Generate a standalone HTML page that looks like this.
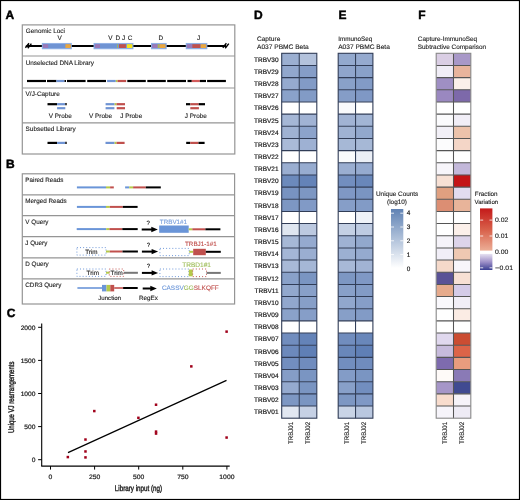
<!DOCTYPE html>
<html><head><meta charset="utf-8"><style>
html,body{margin:0;padding:0;background:#fff;}
body{width:520px;height:500px;overflow:hidden;}
svg{display:block;font-family:"Liberation Sans", sans-serif;will-change:transform;text-rendering:geometricPrecision;}
</style></head><body>
<svg width="520" height="500" viewBox="0 0 520 500">
<rect x="0" y="0" width="520" height="500" fill="#fff"/>
<text x="5.60" y="18.50" font-size="12.0" fill="#000" text-anchor="start" font-weight="bold" stroke="#000" stroke-width="0.45" >A</text>
<text x="5.90" y="167.60" font-size="12.0" fill="#000" text-anchor="start" font-weight="bold" stroke="#000" stroke-width="0.45" >B</text>
<text x="6.80" y="317.40" font-size="12.0" fill="#000" text-anchor="start" font-weight="bold" stroke="#000" stroke-width="0.45" >C</text>
<text x="254.00" y="18.50" font-size="12.0" fill="#000" text-anchor="start" font-weight="bold" stroke="#000" stroke-width="0.45" >D</text>
<text x="338.40" y="18.50" font-size="12.0" fill="#000" text-anchor="start" font-weight="bold" stroke="#000" stroke-width="0.45" >E</text>
<text x="418.20" y="18.50" font-size="12.0" fill="#000" text-anchor="start" font-weight="bold" stroke="#000" stroke-width="0.45" >F</text>
<rect x="281.70" y="53.30" width="17.55" height="12.16" fill="#9bafd1" />
<rect x="299.25" y="53.30" width="17.55" height="12.16" fill="#b3c2dc" />
<rect x="281.70" y="65.46" width="17.55" height="12.16" fill="#91a7cd" />
<rect x="299.25" y="65.46" width="17.55" height="12.16" fill="#859dc7" />
<rect x="281.70" y="77.63" width="17.55" height="12.16" fill="#95aacf" />
<rect x="299.25" y="77.63" width="17.55" height="12.16" fill="#829bc6" />
<rect x="281.70" y="89.79" width="17.55" height="12.16" fill="#8aa2ca" />
<rect x="299.25" y="89.79" width="17.55" height="12.16" fill="#829bc6" />
<rect x="281.70" y="101.95" width="17.55" height="12.16" fill="#ffffff" />
<rect x="299.25" y="101.95" width="17.55" height="12.16" fill="#ffffff" />
<rect x="281.70" y="114.12" width="17.55" height="12.16" fill="#a5b7d6" />
<rect x="299.25" y="114.12" width="17.55" height="12.16" fill="#a1b3d4" />
<rect x="281.70" y="126.28" width="17.55" height="12.16" fill="#9fb2d3" />
<rect x="299.25" y="126.28" width="17.55" height="12.16" fill="#8ca3cb" />
<rect x="281.70" y="138.44" width="17.55" height="12.16" fill="#a9bad8" />
<rect x="299.25" y="138.44" width="17.55" height="12.16" fill="#9eb1d3" />
<rect x="281.70" y="150.61" width="17.55" height="12.16" fill="#ffffff" />
<rect x="299.25" y="150.61" width="17.55" height="12.16" fill="#ffffff" />
<rect x="281.70" y="162.77" width="17.55" height="12.16" fill="#9aaed1" />
<rect x="299.25" y="162.77" width="17.55" height="12.16" fill="#97acd0" />
<rect x="281.70" y="174.93" width="17.55" height="12.16" fill="#6c8abc" />
<rect x="299.25" y="174.93" width="17.55" height="12.16" fill="#6483b8" />
<rect x="281.70" y="187.10" width="17.55" height="12.16" fill="#7893c1" />
<rect x="299.25" y="187.10" width="17.55" height="12.16" fill="#7d97c3" />
<rect x="281.70" y="199.26" width="17.55" height="12.16" fill="#7d97c3" />
<rect x="299.25" y="199.26" width="17.55" height="12.16" fill="#819ac6" />
<rect x="281.70" y="211.42" width="17.55" height="12.16" fill="#ffffff" />
<rect x="299.25" y="211.42" width="17.55" height="12.16" fill="#ffffff" />
<rect x="281.70" y="223.59" width="17.55" height="12.16" fill="#dfe6f0" />
<rect x="299.25" y="223.59" width="17.55" height="12.16" fill="#bcc9e0" />
<rect x="281.70" y="235.75" width="17.55" height="12.16" fill="#a6b8d6" />
<rect x="299.25" y="235.75" width="17.55" height="12.16" fill="#95aacf" />
<rect x="281.70" y="247.91" width="17.55" height="12.16" fill="#a4b6d6" />
<rect x="299.25" y="247.91" width="17.55" height="12.16" fill="#9aaed1" />
<rect x="281.70" y="260.08" width="17.55" height="12.16" fill="#a8b9d7" />
<rect x="299.25" y="260.08" width="17.55" height="12.16" fill="#a5b7d6" />
<rect x="281.70" y="272.24" width="17.55" height="12.16" fill="#89a1c9" />
<rect x="299.25" y="272.24" width="17.55" height="12.16" fill="#7a95c2" />
<rect x="281.70" y="284.40" width="17.55" height="12.16" fill="#92a8cd" />
<rect x="299.25" y="284.40" width="17.55" height="12.16" fill="#88a0c9" />
<rect x="281.70" y="296.57" width="17.55" height="12.16" fill="#91a7cd" />
<rect x="299.25" y="296.57" width="17.55" height="12.16" fill="#879fc8" />
<rect x="281.70" y="308.73" width="17.55" height="12.16" fill="#8aa2ca" />
<rect x="299.25" y="308.73" width="17.55" height="12.16" fill="#869ec8" />
<rect x="281.70" y="320.89" width="17.55" height="12.16" fill="#ffffff" />
<rect x="299.25" y="320.89" width="17.55" height="12.16" fill="#ffffff" />
<rect x="281.70" y="333.06" width="17.55" height="12.16" fill="#718dbe" />
<rect x="299.25" y="333.06" width="17.55" height="12.16" fill="#6483b8" />
<rect x="281.70" y="345.22" width="17.55" height="12.16" fill="#6c89bc" />
<rect x="299.25" y="345.22" width="17.55" height="12.16" fill="#5f7fb6" />
<rect x="281.70" y="357.38" width="17.55" height="12.16" fill="#728ebf" />
<rect x="299.25" y="357.38" width="17.55" height="12.16" fill="#708cbe" />
<rect x="281.70" y="369.55" width="17.55" height="12.16" fill="#859dc7" />
<rect x="299.25" y="369.55" width="17.55" height="12.16" fill="#7a95c2" />
<rect x="281.70" y="381.71" width="17.55" height="12.16" fill="#95aacf" />
<rect x="299.25" y="381.71" width="17.55" height="12.16" fill="#7a95c2" />
<rect x="281.70" y="393.87" width="17.55" height="12.16" fill="#7d97c3" />
<rect x="299.25" y="393.87" width="17.55" height="12.16" fill="#7a95c2" />
<rect x="281.70" y="406.04" width="17.55" height="12.16" fill="#e1e7f1" />
<rect x="299.25" y="406.04" width="17.55" height="12.16" fill="#c6d1e5" />
<line x1="281.70" y1="65.46" x2="316.80" y2="65.46" stroke="#313d57" stroke-width="1.05" />
<line x1="281.70" y1="77.63" x2="316.80" y2="77.63" stroke="#313d57" stroke-width="1.05" />
<line x1="281.70" y1="89.79" x2="316.80" y2="89.79" stroke="#313d57" stroke-width="1.05" />
<line x1="281.70" y1="101.95" x2="316.80" y2="101.95" stroke="#313d57" stroke-width="1.05" />
<line x1="281.70" y1="114.12" x2="316.80" y2="114.12" stroke="#313d57" stroke-width="1.05" />
<line x1="281.70" y1="126.28" x2="316.80" y2="126.28" stroke="#313d57" stroke-width="1.05" />
<line x1="281.70" y1="138.44" x2="316.80" y2="138.44" stroke="#313d57" stroke-width="1.05" />
<line x1="281.70" y1="150.61" x2="316.80" y2="150.61" stroke="#313d57" stroke-width="1.05" />
<line x1="281.70" y1="162.77" x2="316.80" y2="162.77" stroke="#313d57" stroke-width="1.05" />
<line x1="281.70" y1="174.93" x2="316.80" y2="174.93" stroke="#313d57" stroke-width="1.05" />
<line x1="281.70" y1="187.10" x2="316.80" y2="187.10" stroke="#313d57" stroke-width="1.05" />
<line x1="281.70" y1="199.26" x2="316.80" y2="199.26" stroke="#313d57" stroke-width="1.05" />
<line x1="281.70" y1="211.42" x2="316.80" y2="211.42" stroke="#313d57" stroke-width="1.05" />
<line x1="281.70" y1="223.59" x2="316.80" y2="223.59" stroke="#313d57" stroke-width="1.05" />
<line x1="281.70" y1="235.75" x2="316.80" y2="235.75" stroke="#313d57" stroke-width="1.05" />
<line x1="281.70" y1="247.91" x2="316.80" y2="247.91" stroke="#313d57" stroke-width="1.05" />
<line x1="281.70" y1="260.08" x2="316.80" y2="260.08" stroke="#313d57" stroke-width="1.05" />
<line x1="281.70" y1="272.24" x2="316.80" y2="272.24" stroke="#313d57" stroke-width="1.05" />
<line x1="281.70" y1="284.40" x2="316.80" y2="284.40" stroke="#313d57" stroke-width="1.05" />
<line x1="281.70" y1="296.57" x2="316.80" y2="296.57" stroke="#313d57" stroke-width="1.05" />
<line x1="281.70" y1="308.73" x2="316.80" y2="308.73" stroke="#313d57" stroke-width="1.05" />
<line x1="281.70" y1="320.89" x2="316.80" y2="320.89" stroke="#313d57" stroke-width="1.05" />
<line x1="281.70" y1="333.06" x2="316.80" y2="333.06" stroke="#313d57" stroke-width="1.05" />
<line x1="281.70" y1="345.22" x2="316.80" y2="345.22" stroke="#313d57" stroke-width="1.05" />
<line x1="281.70" y1="357.38" x2="316.80" y2="357.38" stroke="#313d57" stroke-width="1.05" />
<line x1="281.70" y1="369.55" x2="316.80" y2="369.55" stroke="#313d57" stroke-width="1.05" />
<line x1="281.70" y1="381.71" x2="316.80" y2="381.71" stroke="#313d57" stroke-width="1.05" />
<line x1="281.70" y1="393.87" x2="316.80" y2="393.87" stroke="#313d57" stroke-width="1.05" />
<line x1="281.70" y1="406.04" x2="316.80" y2="406.04" stroke="#313d57" stroke-width="1.05" />
<line x1="299.25" y1="53.30" x2="299.25" y2="418.20" stroke="#313d57" stroke-width="1.05" />
<rect x="281.70" y="53.30" width="35.10" height="364.90" fill="none" stroke="#313d57" stroke-width="1.1"/>
<text transform="translate(292.68,443.9) rotate(-90) scale(0.92,1)" font-size="6.6" fill="#222" stroke="#222" stroke-width="0.12">TRBJ01</text>
<text transform="translate(310.22,443.9) rotate(-90) scale(0.92,1)" font-size="6.6" fill="#222" stroke="#222" stroke-width="0.12">TRBJ02</text>
<rect x="338.20" y="53.30" width="17.35" height="12.16" fill="#93a9ce" />
<rect x="355.55" y="53.30" width="17.35" height="12.16" fill="#95aacf" />
<rect x="338.20" y="65.46" width="17.35" height="12.16" fill="#8fa5cc" />
<rect x="355.55" y="65.46" width="17.35" height="12.16" fill="#89a1c9" />
<rect x="338.20" y="77.63" width="17.35" height="12.16" fill="#89a1c9" />
<rect x="355.55" y="77.63" width="17.35" height="12.16" fill="#829bc6" />
<rect x="338.20" y="89.79" width="17.35" height="12.16" fill="#859dc7" />
<rect x="355.55" y="89.79" width="17.35" height="12.16" fill="#7f98c5" />
<rect x="338.20" y="101.95" width="17.35" height="12.16" fill="#f8f9fc" />
<rect x="355.55" y="101.95" width="17.35" height="12.16" fill="#ffffff" />
<rect x="338.20" y="114.12" width="17.35" height="12.16" fill="#a1b3d4" />
<rect x="355.55" y="114.12" width="17.35" height="12.16" fill="#a2b5d5" />
<rect x="338.20" y="126.28" width="17.35" height="12.16" fill="#9fb2d3" />
<rect x="355.55" y="126.28" width="17.35" height="12.16" fill="#92a8cd" />
<rect x="338.20" y="138.44" width="17.35" height="12.16" fill="#a6b8d6" />
<rect x="355.55" y="138.44" width="17.35" height="12.16" fill="#a6b8d6" />
<rect x="338.20" y="150.61" width="17.35" height="12.16" fill="#f9fbfc" />
<rect x="355.55" y="150.61" width="17.35" height="12.16" fill="#ebeff6" />
<rect x="338.20" y="162.77" width="17.35" height="12.16" fill="#9aaed1" />
<rect x="355.55" y="162.77" width="17.35" height="12.16" fill="#95aacf" />
<rect x="338.20" y="174.93" width="17.35" height="12.16" fill="#728ebf" />
<rect x="355.55" y="174.93" width="17.35" height="12.16" fill="#6987ba" />
<rect x="338.20" y="187.10" width="17.35" height="12.16" fill="#7f98c5" />
<rect x="355.55" y="187.10" width="17.35" height="12.16" fill="#7a95c2" />
<rect x="338.20" y="199.26" width="17.35" height="12.16" fill="#869ec8" />
<rect x="355.55" y="199.26" width="17.35" height="12.16" fill="#829bc6" />
<rect x="338.20" y="211.42" width="17.35" height="12.16" fill="#ffffff" />
<rect x="355.55" y="211.42" width="17.35" height="12.16" fill="#eff2f8" />
<rect x="338.20" y="223.59" width="17.35" height="12.16" fill="#c4d0e4" />
<rect x="355.55" y="223.59" width="17.35" height="12.16" fill="#becbe2" />
<rect x="338.20" y="235.75" width="17.35" height="12.16" fill="#9fb2d3" />
<rect x="355.55" y="235.75" width="17.35" height="12.16" fill="#92a8cd" />
<rect x="338.20" y="247.91" width="17.35" height="12.16" fill="#9cb0d2" />
<rect x="355.55" y="247.91" width="17.35" height="12.16" fill="#95aacf" />
<rect x="338.20" y="260.08" width="17.35" height="12.16" fill="#a8b9d7" />
<rect x="355.55" y="260.08" width="17.35" height="12.16" fill="#a1b3d4" />
<rect x="338.20" y="272.24" width="17.35" height="12.16" fill="#7d97c3" />
<rect x="355.55" y="272.24" width="17.35" height="12.16" fill="#7f98c5" />
<rect x="338.20" y="284.40" width="17.35" height="12.16" fill="#88a0c9" />
<rect x="355.55" y="284.40" width="17.35" height="12.16" fill="#829bc6" />
<rect x="338.20" y="296.57" width="17.35" height="12.16" fill="#91a7cd" />
<rect x="355.55" y="296.57" width="17.35" height="12.16" fill="#869ec8" />
<rect x="338.20" y="308.73" width="17.35" height="12.16" fill="#879fc8" />
<rect x="355.55" y="308.73" width="17.35" height="12.16" fill="#829bc6" />
<rect x="338.20" y="320.89" width="17.35" height="12.16" fill="#ffffff" />
<rect x="355.55" y="320.89" width="17.35" height="12.16" fill="#ffffff" />
<rect x="338.20" y="333.06" width="17.35" height="12.16" fill="#718dbe" />
<rect x="355.55" y="333.06" width="17.35" height="12.16" fill="#6987ba" />
<rect x="338.20" y="345.22" width="17.35" height="12.16" fill="#6987ba" />
<rect x="355.55" y="345.22" width="17.35" height="12.16" fill="#5f7fb6" />
<rect x="338.20" y="357.38" width="17.35" height="12.16" fill="#728ebf" />
<rect x="355.55" y="357.38" width="17.35" height="12.16" fill="#708cbe" />
<rect x="338.20" y="369.55" width="17.35" height="12.16" fill="#839cc7" />
<rect x="355.55" y="369.55" width="17.35" height="12.16" fill="#7a95c2" />
<rect x="338.20" y="381.71" width="17.35" height="12.16" fill="#88a0c9" />
<rect x="355.55" y="381.71" width="17.35" height="12.16" fill="#728ebf" />
<rect x="338.20" y="393.87" width="17.35" height="12.16" fill="#7d97c3" />
<rect x="355.55" y="393.87" width="17.35" height="12.16" fill="#7f98c5" />
<rect x="338.20" y="406.04" width="17.35" height="12.16" fill="#c9d4e6" />
<rect x="355.55" y="406.04" width="17.35" height="12.16" fill="#b9c7df" />
<line x1="338.20" y1="65.46" x2="372.90" y2="65.46" stroke="#313d57" stroke-width="1.05" />
<line x1="338.20" y1="77.63" x2="372.90" y2="77.63" stroke="#313d57" stroke-width="1.05" />
<line x1="338.20" y1="89.79" x2="372.90" y2="89.79" stroke="#313d57" stroke-width="1.05" />
<line x1="338.20" y1="101.95" x2="372.90" y2="101.95" stroke="#313d57" stroke-width="1.05" />
<line x1="338.20" y1="114.12" x2="372.90" y2="114.12" stroke="#313d57" stroke-width="1.05" />
<line x1="338.20" y1="126.28" x2="372.90" y2="126.28" stroke="#313d57" stroke-width="1.05" />
<line x1="338.20" y1="138.44" x2="372.90" y2="138.44" stroke="#313d57" stroke-width="1.05" />
<line x1="338.20" y1="150.61" x2="372.90" y2="150.61" stroke="#313d57" stroke-width="1.05" />
<line x1="338.20" y1="162.77" x2="372.90" y2="162.77" stroke="#313d57" stroke-width="1.05" />
<line x1="338.20" y1="174.93" x2="372.90" y2="174.93" stroke="#313d57" stroke-width="1.05" />
<line x1="338.20" y1="187.10" x2="372.90" y2="187.10" stroke="#313d57" stroke-width="1.05" />
<line x1="338.20" y1="199.26" x2="372.90" y2="199.26" stroke="#313d57" stroke-width="1.05" />
<line x1="338.20" y1="211.42" x2="372.90" y2="211.42" stroke="#313d57" stroke-width="1.05" />
<line x1="338.20" y1="223.59" x2="372.90" y2="223.59" stroke="#313d57" stroke-width="1.05" />
<line x1="338.20" y1="235.75" x2="372.90" y2="235.75" stroke="#313d57" stroke-width="1.05" />
<line x1="338.20" y1="247.91" x2="372.90" y2="247.91" stroke="#313d57" stroke-width="1.05" />
<line x1="338.20" y1="260.08" x2="372.90" y2="260.08" stroke="#313d57" stroke-width="1.05" />
<line x1="338.20" y1="272.24" x2="372.90" y2="272.24" stroke="#313d57" stroke-width="1.05" />
<line x1="338.20" y1="284.40" x2="372.90" y2="284.40" stroke="#313d57" stroke-width="1.05" />
<line x1="338.20" y1="296.57" x2="372.90" y2="296.57" stroke="#313d57" stroke-width="1.05" />
<line x1="338.20" y1="308.73" x2="372.90" y2="308.73" stroke="#313d57" stroke-width="1.05" />
<line x1="338.20" y1="320.89" x2="372.90" y2="320.89" stroke="#313d57" stroke-width="1.05" />
<line x1="338.20" y1="333.06" x2="372.90" y2="333.06" stroke="#313d57" stroke-width="1.05" />
<line x1="338.20" y1="345.22" x2="372.90" y2="345.22" stroke="#313d57" stroke-width="1.05" />
<line x1="338.20" y1="357.38" x2="372.90" y2="357.38" stroke="#313d57" stroke-width="1.05" />
<line x1="338.20" y1="369.55" x2="372.90" y2="369.55" stroke="#313d57" stroke-width="1.05" />
<line x1="338.20" y1="381.71" x2="372.90" y2="381.71" stroke="#313d57" stroke-width="1.05" />
<line x1="338.20" y1="393.87" x2="372.90" y2="393.87" stroke="#313d57" stroke-width="1.05" />
<line x1="338.20" y1="406.04" x2="372.90" y2="406.04" stroke="#313d57" stroke-width="1.05" />
<line x1="355.55" y1="53.30" x2="355.55" y2="418.20" stroke="#313d57" stroke-width="1.05" />
<rect x="338.20" y="53.30" width="34.70" height="364.90" fill="none" stroke="#313d57" stroke-width="1.1"/>
<text transform="translate(349.07,443.9) rotate(-90) scale(0.92,1)" font-size="6.6" fill="#222" stroke="#222" stroke-width="0.12">TRBJ01</text>
<text transform="translate(366.42,443.9) rotate(-90) scale(0.92,1)" font-size="6.6" fill="#222" stroke="#222" stroke-width="0.12">TRBJ02</text>
<rect x="436.20" y="53.30" width="17.30" height="12.16" fill="#dacee4" />
<rect x="453.50" y="53.30" width="17.30" height="12.16" fill="#a898c8" />
<rect x="436.20" y="65.46" width="17.30" height="12.16" fill="#f0edf6" />
<rect x="453.50" y="65.46" width="17.30" height="12.16" fill="#e8b49c" />
<rect x="436.20" y="77.63" width="17.30" height="12.16" fill="#9f8fc4" />
<rect x="453.50" y="77.63" width="17.30" height="12.16" fill="#fbf0ea" />
<rect x="436.20" y="89.79" width="17.30" height="12.16" fill="#9a88c0" />
<rect x="453.50" y="89.79" width="17.30" height="12.16" fill="#7d69aa" />
<rect x="436.20" y="101.95" width="17.30" height="12.16" fill="#ffffff" />
<rect x="453.50" y="101.95" width="17.30" height="12.16" fill="#ffffff" />
<rect x="436.20" y="114.12" width="17.30" height="12.16" fill="#fbfbfd" />
<rect x="453.50" y="114.12" width="17.30" height="12.16" fill="#f1eef7" />
<rect x="436.20" y="126.28" width="17.30" height="12.16" fill="#f2f0f7" />
<rect x="453.50" y="126.28" width="17.30" height="12.16" fill="#ecc2ab" />
<rect x="436.20" y="138.44" width="17.30" height="12.16" fill="#fcfcfd" />
<rect x="453.50" y="138.44" width="17.30" height="12.16" fill="#f4d6c7" />
<rect x="436.20" y="150.61" width="17.30" height="12.16" fill="#ffffff" />
<rect x="453.50" y="150.61" width="17.30" height="12.16" fill="#ffffff" />
<rect x="436.20" y="162.77" width="17.30" height="12.16" fill="#f7f5fa" />
<rect x="453.50" y="162.77" width="17.30" height="12.16" fill="#c3b8da" />
<rect x="436.20" y="174.93" width="17.30" height="12.16" fill="#f7e0d4" />
<rect x="453.50" y="174.93" width="17.30" height="12.16" fill="#c31416" />
<rect x="436.20" y="187.10" width="17.30" height="12.16" fill="#e0a080" />
<rect x="453.50" y="187.10" width="17.30" height="12.16" fill="#e2dcef" />
<rect x="436.20" y="199.26" width="17.30" height="12.16" fill="#dc8e73" />
<rect x="453.50" y="199.26" width="17.30" height="12.16" fill="#e8b49a" />
<rect x="436.20" y="211.42" width="17.30" height="12.16" fill="#ffffff" />
<rect x="453.50" y="211.42" width="17.30" height="12.16" fill="#ffffff" />
<rect x="436.20" y="223.59" width="17.30" height="12.16" fill="#ffffff" />
<rect x="453.50" y="223.59" width="17.30" height="12.16" fill="#fcf0ea" />
<rect x="436.20" y="235.75" width="17.30" height="12.16" fill="#f5f3f9" />
<rect x="453.50" y="235.75" width="17.30" height="12.16" fill="#ddd4ea" />
<rect x="436.20" y="247.91" width="17.30" height="12.16" fill="#f1eef7" />
<rect x="453.50" y="247.91" width="17.30" height="12.16" fill="#efc8b2" />
<rect x="436.20" y="260.08" width="17.30" height="12.16" fill="#f5d9ca" />
<rect x="453.50" y="260.08" width="17.30" height="12.16" fill="#f8f6fb" />
<rect x="436.20" y="272.24" width="17.30" height="12.16" fill="#5a5296" />
<rect x="453.50" y="272.24" width="17.30" height="12.16" fill="#f7e0d4" />
<rect x="436.20" y="284.40" width="17.30" height="12.16" fill="#e6aa8c" />
<rect x="453.50" y="284.40" width="17.30" height="12.16" fill="#d4cbe8" />
<rect x="436.20" y="296.57" width="17.30" height="12.16" fill="#f9f8fc" />
<rect x="453.50" y="296.57" width="17.30" height="12.16" fill="#f1eef7" />
<rect x="436.20" y="308.73" width="17.30" height="12.16" fill="#ffffff" />
<rect x="453.50" y="308.73" width="17.30" height="12.16" fill="#fbece4" />
<rect x="436.20" y="320.89" width="17.30" height="12.16" fill="#ffffff" />
<rect x="453.50" y="320.89" width="17.30" height="12.16" fill="#ffffff" />
<rect x="436.20" y="333.06" width="17.30" height="12.16" fill="#e0d8ee" />
<rect x="453.50" y="333.06" width="17.30" height="12.16" fill="#cb4d32" />
<rect x="436.20" y="345.22" width="17.30" height="12.16" fill="#c7bbdc" />
<rect x="453.50" y="345.22" width="17.30" height="12.16" fill="#dc6448" />
<rect x="436.20" y="357.38" width="17.30" height="12.16" fill="#7e6bae" />
<rect x="453.50" y="357.38" width="17.30" height="12.16" fill="#e89c7e" />
<rect x="436.20" y="369.55" width="17.30" height="12.16" fill="#fefaf8" />
<rect x="453.50" y="369.55" width="17.30" height="12.16" fill="#8a7ab6" />
<rect x="436.20" y="381.71" width="17.30" height="12.16" fill="#a696c8" />
<rect x="453.50" y="381.71" width="17.30" height="12.16" fill="#404a91" />
<rect x="436.20" y="393.87" width="17.30" height="12.16" fill="#f8dccd" />
<rect x="453.50" y="393.87" width="17.30" height="12.16" fill="#f6f3f9" />
<rect x="436.20" y="406.04" width="17.30" height="12.16" fill="#f6f4fa" />
<rect x="453.50" y="406.04" width="17.30" height="12.16" fill="#eeebf5" />
<line x1="436.20" y1="65.46" x2="470.80" y2="65.46" stroke="#555" stroke-width="1.05" />
<line x1="436.20" y1="77.63" x2="470.80" y2="77.63" stroke="#555" stroke-width="1.05" />
<line x1="436.20" y1="89.79" x2="470.80" y2="89.79" stroke="#555" stroke-width="1.05" />
<line x1="436.20" y1="101.95" x2="470.80" y2="101.95" stroke="#555" stroke-width="1.05" />
<line x1="436.20" y1="114.12" x2="470.80" y2="114.12" stroke="#555" stroke-width="1.05" />
<line x1="436.20" y1="126.28" x2="470.80" y2="126.28" stroke="#555" stroke-width="1.05" />
<line x1="436.20" y1="138.44" x2="470.80" y2="138.44" stroke="#555" stroke-width="1.05" />
<line x1="436.20" y1="150.61" x2="470.80" y2="150.61" stroke="#555" stroke-width="1.05" />
<line x1="436.20" y1="162.77" x2="470.80" y2="162.77" stroke="#555" stroke-width="1.05" />
<line x1="436.20" y1="174.93" x2="470.80" y2="174.93" stroke="#555" stroke-width="1.05" />
<line x1="436.20" y1="187.10" x2="470.80" y2="187.10" stroke="#555" stroke-width="1.05" />
<line x1="436.20" y1="199.26" x2="470.80" y2="199.26" stroke="#555" stroke-width="1.05" />
<line x1="436.20" y1="211.42" x2="470.80" y2="211.42" stroke="#555" stroke-width="1.05" />
<line x1="436.20" y1="223.59" x2="470.80" y2="223.59" stroke="#555" stroke-width="1.05" />
<line x1="436.20" y1="235.75" x2="470.80" y2="235.75" stroke="#555" stroke-width="1.05" />
<line x1="436.20" y1="247.91" x2="470.80" y2="247.91" stroke="#555" stroke-width="1.05" />
<line x1="436.20" y1="260.08" x2="470.80" y2="260.08" stroke="#555" stroke-width="1.05" />
<line x1="436.20" y1="272.24" x2="470.80" y2="272.24" stroke="#555" stroke-width="1.05" />
<line x1="436.20" y1="284.40" x2="470.80" y2="284.40" stroke="#555" stroke-width="1.05" />
<line x1="436.20" y1="296.57" x2="470.80" y2="296.57" stroke="#555" stroke-width="1.05" />
<line x1="436.20" y1="308.73" x2="470.80" y2="308.73" stroke="#555" stroke-width="1.05" />
<line x1="436.20" y1="320.89" x2="470.80" y2="320.89" stroke="#555" stroke-width="1.05" />
<line x1="436.20" y1="333.06" x2="470.80" y2="333.06" stroke="#555" stroke-width="1.05" />
<line x1="436.20" y1="345.22" x2="470.80" y2="345.22" stroke="#555" stroke-width="1.05" />
<line x1="436.20" y1="357.38" x2="470.80" y2="357.38" stroke="#555" stroke-width="1.05" />
<line x1="436.20" y1="369.55" x2="470.80" y2="369.55" stroke="#555" stroke-width="1.05" />
<line x1="436.20" y1="381.71" x2="470.80" y2="381.71" stroke="#555" stroke-width="1.05" />
<line x1="436.20" y1="393.87" x2="470.80" y2="393.87" stroke="#555" stroke-width="1.05" />
<line x1="436.20" y1="406.04" x2="470.80" y2="406.04" stroke="#555" stroke-width="1.05" />
<line x1="453.50" y1="53.30" x2="453.50" y2="418.20" stroke="#555" stroke-width="1.05" />
<rect x="436.20" y="53.30" width="34.60" height="364.90" fill="none" stroke="#888" stroke-width="1.1"/>
<text transform="translate(447.05,443.9) rotate(-90) scale(0.92,1)" font-size="6.6" fill="#222" stroke="#222" stroke-width="0.12">TRBJ01</text>
<text transform="translate(464.35,443.9) rotate(-90) scale(0.92,1)" font-size="6.6" fill="#222" stroke="#222" stroke-width="0.12">TRBJ02</text>
<text x="278.60" y="61.68" font-size="6.5" fill="#111" text-anchor="end" font-weight="normal" stroke="#111" stroke-width="0.16" >TRBV30</text>
<text x="278.60" y="73.84" font-size="6.5" fill="#111" text-anchor="end" font-weight="normal" stroke="#111" stroke-width="0.16" >TRBV29</text>
<text x="278.60" y="86.01" font-size="6.5" fill="#111" text-anchor="end" font-weight="normal" stroke="#111" stroke-width="0.16" >TRBV28</text>
<text x="278.60" y="98.17" font-size="6.5" fill="#111" text-anchor="end" font-weight="normal" stroke="#111" stroke-width="0.16" >TRBV27</text>
<text x="278.60" y="110.33" font-size="6.5" fill="#111" text-anchor="end" font-weight="normal" stroke="#111" stroke-width="0.16" >TRBV26</text>
<text x="278.60" y="122.50" font-size="6.5" fill="#111" text-anchor="end" font-weight="normal" stroke="#111" stroke-width="0.16" >TRBV25</text>
<text x="278.60" y="134.66" font-size="6.5" fill="#111" text-anchor="end" font-weight="normal" stroke="#111" stroke-width="0.16" >TRBV24</text>
<text x="278.60" y="146.82" font-size="6.5" fill="#111" text-anchor="end" font-weight="normal" stroke="#111" stroke-width="0.16" >TRBV23</text>
<text x="278.60" y="158.99" font-size="6.5" fill="#111" text-anchor="end" font-weight="normal" stroke="#111" stroke-width="0.16" >TRBV22</text>
<text x="278.60" y="171.15" font-size="6.5" fill="#111" text-anchor="end" font-weight="normal" stroke="#111" stroke-width="0.16" >TRBV21</text>
<text x="278.60" y="183.31" font-size="6.5" fill="#111" text-anchor="end" font-weight="normal" stroke="#111" stroke-width="0.16" >TRBV20</text>
<text x="278.60" y="195.48" font-size="6.5" fill="#111" text-anchor="end" font-weight="normal" stroke="#111" stroke-width="0.16" >TRBV19</text>
<text x="278.60" y="207.64" font-size="6.5" fill="#111" text-anchor="end" font-weight="normal" stroke="#111" stroke-width="0.16" >TRBV18</text>
<text x="278.60" y="219.81" font-size="6.5" fill="#111" text-anchor="end" font-weight="normal" stroke="#111" stroke-width="0.16" >TRBV17</text>
<text x="278.60" y="231.97" font-size="6.5" fill="#111" text-anchor="end" font-weight="normal" stroke="#111" stroke-width="0.16" >TRBV16</text>
<text x="278.60" y="244.13" font-size="6.5" fill="#111" text-anchor="end" font-weight="normal" stroke="#111" stroke-width="0.16" >TRBV15</text>
<text x="278.60" y="256.30" font-size="6.5" fill="#111" text-anchor="end" font-weight="normal" stroke="#111" stroke-width="0.16" >TRBV14</text>
<text x="278.60" y="268.46" font-size="6.5" fill="#111" text-anchor="end" font-weight="normal" stroke="#111" stroke-width="0.16" >TRBV13</text>
<text x="278.60" y="280.62" font-size="6.5" fill="#111" text-anchor="end" font-weight="normal" stroke="#111" stroke-width="0.16" >TRBV12</text>
<text x="278.60" y="292.78" font-size="6.5" fill="#111" text-anchor="end" font-weight="normal" stroke="#111" stroke-width="0.16" >TRBV11</text>
<text x="278.60" y="304.95" font-size="6.5" fill="#111" text-anchor="end" font-weight="normal" stroke="#111" stroke-width="0.16" >TRBV10</text>
<text x="278.60" y="317.11" font-size="6.5" fill="#111" text-anchor="end" font-weight="normal" stroke="#111" stroke-width="0.16" >TRBV09</text>
<text x="278.60" y="329.27" font-size="6.5" fill="#111" text-anchor="end" font-weight="normal" stroke="#111" stroke-width="0.16" >TRBV08</text>
<text x="278.60" y="341.44" font-size="6.5" fill="#111" text-anchor="end" font-weight="normal" stroke="#111" stroke-width="0.16" >TRBV07</text>
<text x="278.60" y="353.60" font-size="6.5" fill="#111" text-anchor="end" font-weight="normal" stroke="#111" stroke-width="0.16" >TRBV06</text>
<text x="278.60" y="365.76" font-size="6.5" fill="#111" text-anchor="end" font-weight="normal" stroke="#111" stroke-width="0.16" >TRBV05</text>
<text x="278.60" y="377.93" font-size="6.5" fill="#111" text-anchor="end" font-weight="normal" stroke="#111" stroke-width="0.16" >TRBV04</text>
<text x="278.60" y="390.09" font-size="6.5" fill="#111" text-anchor="end" font-weight="normal" stroke="#111" stroke-width="0.16" >TRBV03</text>
<text x="278.60" y="402.25" font-size="6.5" fill="#111" text-anchor="end" font-weight="normal" stroke="#111" stroke-width="0.16" >TRBV02</text>
<text x="278.60" y="414.42" font-size="6.5" fill="#111" text-anchor="end" font-weight="normal" stroke="#111" stroke-width="0.16" >TRBV01</text>
<text x="257.00" y="40.70" font-size="6.55" fill="#222" text-anchor="start" font-weight="normal" stroke="#222" stroke-width="0.12" >Capture</text>
<text x="257.00" y="48.80" font-size="6.62" fill="#222" text-anchor="start" font-weight="normal" stroke="#222" stroke-width="0.12" >A037 PBMC Beta</text>
<text x="338.30" y="40.70" font-size="6.3" fill="#222" text-anchor="start" font-weight="normal" stroke="#222" stroke-width="0.12" >ImmunoSeq</text>
<text x="338.20" y="48.80" font-size="6.6" fill="#222" text-anchor="start" font-weight="normal" stroke="#222" stroke-width="0.12" >A037 PBMC Beta</text>
<text x="417.80" y="40.80" font-size="6.4" fill="#222" text-anchor="start" font-weight="normal" stroke="#222" stroke-width="0.12" >Capture-ImmunoSeq</text>
<text x="417.80" y="48.80" font-size="6.4" fill="#222" text-anchor="start" font-weight="normal" stroke="#222" stroke-width="0.12" >Subtractive Comparison</text>
<defs><linearGradient id="gb" x1="0" y1="0" x2="0" y2="1"><stop offset="0" stop-color="#5f82b4"/><stop offset="1" stop-color="#ffffff"/></linearGradient><linearGradient id="gr" x1="0" y1="0" x2="0" y2="1"><stop offset="0" stop-color="#c41a1a"/><stop offset="0.5" stop-color="#d8604a"/><stop offset="1" stop-color="#ecae96"/></linearGradient><linearGradient id="gp" x1="0" y1="0" x2="0" y2="1"><stop offset="0" stop-color="#e6e1f1"/><stop offset="0.5" stop-color="#9e90c8"/><stop offset="1" stop-color="#3a3f92"/></linearGradient></defs>
<text x="376.00" y="196.20" font-size="6.4" fill="#222" text-anchor="start" font-weight="normal" stroke="#222" stroke-width="0.12" >Unique Counts</text>
<text x="397.00" y="204.40" font-size="6.4" fill="#222" text-anchor="middle" font-weight="normal" stroke="#222" stroke-width="0.12" >(log10)</text>
<rect x="391.00" y="209.00" width="12.30" height="59.00" fill="url(#gb)" />
<line x1="391.00" y1="213.20" x2="394.00" y2="213.20" stroke="#fff" stroke-width="0.8" />
<line x1="400.30" y1="213.20" x2="403.30" y2="213.20" stroke="#fff" stroke-width="0.8" />
<line x1="391.00" y1="227.00" x2="394.00" y2="227.00" stroke="#fff" stroke-width="0.8" />
<line x1="400.30" y1="227.00" x2="403.30" y2="227.00" stroke="#fff" stroke-width="0.8" />
<line x1="391.00" y1="240.80" x2="394.00" y2="240.80" stroke="#fff" stroke-width="0.8" />
<line x1="400.30" y1="240.80" x2="403.30" y2="240.80" stroke="#fff" stroke-width="0.8" />
<line x1="391.00" y1="254.60" x2="394.00" y2="254.60" stroke="#fff" stroke-width="0.8" />
<line x1="400.30" y1="254.60" x2="403.30" y2="254.60" stroke="#fff" stroke-width="0.8" />
<text x="406.70" y="215.40" font-size="6.4" fill="#222" text-anchor="start" font-weight="normal" stroke="#222" stroke-width="0.18" >4</text>
<text x="406.70" y="229.20" font-size="6.4" fill="#222" text-anchor="start" font-weight="normal" stroke="#222" stroke-width="0.18" >3</text>
<text x="406.70" y="243.00" font-size="6.4" fill="#222" text-anchor="start" font-weight="normal" stroke="#222" stroke-width="0.18" >2</text>
<text x="406.70" y="256.80" font-size="6.4" fill="#222" text-anchor="start" font-weight="normal" stroke="#222" stroke-width="0.18" >1</text>
<text x="406.70" y="270.60" font-size="6.4" fill="#222" text-anchor="start" font-weight="normal" stroke="#222" stroke-width="0.18" >0</text>
<text x="474.80" y="195.90" font-size="6.3" fill="#222" text-anchor="start" font-weight="normal" stroke="#222" stroke-width="0.12" >Fraction</text>
<text x="474.60" y="203.80" font-size="6.1" fill="#222" text-anchor="start" font-weight="normal" stroke="#222" stroke-width="0.12" >Variation</text>
<rect x="480.00" y="208.40" width="12.40" height="42.20" fill="url(#gr)" />
<rect x="480.00" y="253.90" width="12.40" height="16.10" fill="url(#gp)" />
<line x1="480.20" y1="220.10" x2="483.20" y2="220.10" stroke="#fff" stroke-width="0.8" />
<line x1="489.50" y1="220.10" x2="492.50" y2="220.10" stroke="#fff" stroke-width="0.8" />
<line x1="480.20" y1="236.00" x2="483.20" y2="236.00" stroke="#fff" stroke-width="0.8" />
<line x1="489.50" y1="236.00" x2="492.50" y2="236.00" stroke="#fff" stroke-width="0.8" />
<line x1="480.20" y1="267.80" x2="483.20" y2="267.80" stroke="#fff" stroke-width="0.8" />
<line x1="489.50" y1="267.80" x2="492.50" y2="267.80" stroke="#fff" stroke-width="0.8" />
<text transform="translate(495.00,222.30) scale(1.08,1)" font-size="6.4" fill="#222" stroke="#222" stroke-width="0.12" text-anchor="start">0.02</text>
<text transform="translate(495.00,238.20) scale(1.08,1)" font-size="6.4" fill="#222" stroke="#222" stroke-width="0.12" text-anchor="start">0.01</text>
<text transform="translate(495.00,254.20) scale(1.08,1)" font-size="6.4" fill="#222" stroke="#222" stroke-width="0.12" text-anchor="start">0.00</text>
<line x1="495.30" y1="267.90" x2="499.30" y2="267.90" stroke="#222" stroke-width="0.75" />
<text transform="translate(499.60,270.00) scale(1.08,1)" font-size="6.4" fill="#222" stroke="#222" stroke-width="0.12" text-anchor="start">0.01</text>
<rect x="22.3" y="24.9" width="212.5" height="129.1" fill="none" stroke="#959595" stroke-width="1.2"/>
<line x1="22.30" y1="56.00" x2="234.80" y2="56.00" stroke="#959595" stroke-width="1.2" />
<line x1="22.30" y1="88.00" x2="234.80" y2="88.00" stroke="#959595" stroke-width="1.2" />
<line x1="22.30" y1="122.80" x2="234.80" y2="122.80" stroke="#959595" stroke-width="1.2" />
<text x="25.80" y="32.50" font-size="6.4" fill="#222" text-anchor="start" font-weight="normal" stroke="#222" stroke-width="0.12" >Genomic Loci</text>
<text x="25.70" y="64.60" font-size="6.4" fill="#222" text-anchor="start" font-weight="normal" stroke="#222" stroke-width="0.12" >Unselected DNA Library</text>
<text x="25.60" y="96.00" font-size="6.4" fill="#222" text-anchor="start" font-weight="normal" stroke="#222" stroke-width="0.12" >V/J-Capture</text>
<text x="25.60" y="130.90" font-size="6.4" fill="#222" text-anchor="start" font-weight="normal" stroke="#222" stroke-width="0.12" >Subsetted Library</text>
<line x1="28.00" y1="46.00" x2="226.00" y2="46.00" stroke="#000" stroke-width="2" />
<path d="M25.4,47.8 L29.0,43.3 M27.8,48.2 L31.4,43.6" stroke="#000" stroke-width="1.4" fill="none"/>
<path d="M222.8,47.8 L226.4,43.3 M225.2,48.2 L228.8,43.6" stroke="#000" stroke-width="1.4" fill="none"/>
<path d="M25.2,46 L29,44.2 L29,47.8 Z" fill="#000"/>
<rect x="42.30" y="43.4" width="29.00" height="5.4" fill="#6f93d3" stroke="#8fb0e6" stroke-width="0.9"/>
<rect x="43.00" y="44.20" width="5.20" height="3.80" fill="#9a78b8" />
<rect x="65.40" y="44.20" width="5.40" height="3.80" fill="#e9a640" />
<rect x="94.00" y="43.4" width="39.00" height="5.4" fill="#6f93d3" stroke="#8fb0e6" stroke-width="0.9"/>
<rect x="95.00" y="44.20" width="5.00" height="3.80" fill="#9a78b8" />
<rect x="117.00" y="44.20" width="0.90" height="3.80" fill="#a8b850" />
<rect x="119.00" y="44.20" width="6.90" height="3.80" fill="#c0504d" />
<rect x="126.90" y="44.20" width="5.40" height="3.80" fill="#f6e51c" />
<rect x="151.50" y="43.4" width="14.70" height="5.4" fill="#6f93d3" stroke="#8fb0e6" stroke-width="0.9"/>
<rect x="152.20" y="44.20" width="5.50" height="3.80" fill="#9a78b8" />
<rect x="157.70" y="44.20" width="1.50" height="3.80" fill="#a8b850" />
<rect x="159.40" y="44.20" width="6.10" height="3.80" fill="#e9a640" />
<rect x="186.20" y="43.4" width="20.70" height="5.4" fill="#6f93d3" stroke="#8fb0e6" stroke-width="0.9"/>
<rect x="186.90" y="44.20" width="5.40" height="3.80" fill="#9a78b8" />
<rect x="192.30" y="44.20" width="8.20" height="3.80" fill="#c0504d" />
<rect x="200.70" y="44.20" width="5.50" height="3.80" fill="#e9a640" />
<text x="59.70" y="40.20" font-size="6.4" fill="#222" text-anchor="middle" font-weight="normal" stroke="#222" stroke-width="0.12" >V</text>
<text x="110.40" y="40.20" font-size="6.4" fill="#222" text-anchor="middle" font-weight="normal" stroke="#222" stroke-width="0.12" >V</text>
<text x="117.90" y="40.20" font-size="6.4" fill="#222" text-anchor="middle" font-weight="normal" stroke="#222" stroke-width="0.12" >D</text>
<text x="123.70" y="40.20" font-size="6.4" fill="#222" text-anchor="middle" font-weight="normal" stroke="#222" stroke-width="0.12" >J</text>
<text x="130.00" y="40.20" font-size="6.4" fill="#222" text-anchor="middle" font-weight="normal" stroke="#222" stroke-width="0.12" >C</text>
<text x="160.80" y="40.20" font-size="6.4" fill="#222" text-anchor="middle" font-weight="normal" stroke="#222" stroke-width="0.12" >D</text>
<text x="198.50" y="40.20" font-size="6.4" fill="#222" text-anchor="middle" font-weight="normal" stroke="#222" stroke-width="0.12" >J</text>
<line x1="27.00" y1="81.00" x2="46.00" y2="81.00" stroke="#000" stroke-width="2.2" />
<line x1="47.00" y1="81.00" x2="56.40" y2="81.00" stroke="#000" stroke-width="2.2" />
<line x1="56.40" y1="81.00" x2="64.50" y2="81.00" stroke="#6f93d3" stroke-width="2.2" />
<line x1="64.50" y1="81.00" x2="66.00" y2="81.00" stroke="#000" stroke-width="2.2" />
<line x1="67.00" y1="81.00" x2="85.60" y2="81.00" stroke="#000" stroke-width="2.2" />
<line x1="87.20" y1="81.00" x2="106.00" y2="81.00" stroke="#000" stroke-width="2.2" />
<line x1="107.10" y1="81.00" x2="115.80" y2="81.00" stroke="#6f93d3" stroke-width="2.2" />
<line x1="115.80" y1="81.00" x2="117.50" y2="81.00" stroke="#b5c94a" stroke-width="2.2" />
<line x1="117.50" y1="81.00" x2="126.20" y2="81.00" stroke="#c0504d" stroke-width="2.2" />
<line x1="127.30" y1="81.00" x2="145.80" y2="81.00" stroke="#000" stroke-width="2.2" />
<line x1="147.30" y1="81.00" x2="165.80" y2="81.00" stroke="#000" stroke-width="2.2" />
<line x1="167.20" y1="81.00" x2="186.00" y2="81.00" stroke="#000" stroke-width="2.2" />
<line x1="187.50" y1="81.00" x2="191.80" y2="81.00" stroke="#000" stroke-width="2.2" />
<line x1="191.80" y1="81.00" x2="199.80" y2="81.00" stroke="#d25a5a" stroke-width="2.2" />
<line x1="199.80" y1="81.00" x2="206.00" y2="81.00" stroke="#000" stroke-width="2.2" />
<line x1="207.10" y1="81.00" x2="225.90" y2="81.00" stroke="#000" stroke-width="2.2" />
<line x1="47.50" y1="104.20" x2="57.10" y2="104.20" stroke="#000" stroke-width="2.2" />
<line x1="57.10" y1="104.20" x2="65.30" y2="104.20" stroke="#6f93d3" stroke-width="2.2" />
<line x1="65.30" y1="104.20" x2="66.70" y2="104.20" stroke="#000" stroke-width="2.2" />
<line x1="105.60" y1="104.20" x2="114.60" y2="104.20" stroke="#6f93d3" stroke-width="2.2" />
<line x1="114.60" y1="104.20" x2="116.50" y2="104.20" stroke="#b5c94a" stroke-width="2.2" />
<line x1="116.50" y1="104.20" x2="125.00" y2="104.20" stroke="#c0504d" stroke-width="2.2" />
<line x1="186.00" y1="104.20" x2="190.30" y2="104.20" stroke="#000" stroke-width="2.2" />
<line x1="190.30" y1="104.20" x2="198.70" y2="104.20" stroke="#c0504d" stroke-width="2.2" />
<line x1="198.70" y1="104.20" x2="205.00" y2="104.20" stroke="#000" stroke-width="2.2" />
<line x1="57.10" y1="108.20" x2="65.30" y2="108.20" stroke="#6f93d3" stroke-width="2.2" />
<line x1="105.60" y1="108.20" x2="114.40" y2="108.20" stroke="#6f93d3" stroke-width="2.2" />
<line x1="116.70" y1="108.20" x2="125.00" y2="108.20" stroke="#c0504d" stroke-width="2.2" />
<line x1="190.30" y1="108.20" x2="198.90" y2="108.20" stroke="#c0504d" stroke-width="2.2" />
<text x="48.80" y="117.90" font-size="6.4" fill="#222" text-anchor="start" font-weight="normal" stroke="#222" stroke-width="0.12" >V Probe</text>
<text x="89.00" y="117.80" font-size="6.4" fill="#222" text-anchor="start" font-weight="normal" stroke="#222" stroke-width="0.12" >V Probe</text>
<text x="120.20" y="117.80" font-size="6.4" fill="#222" text-anchor="start" font-weight="normal" stroke="#222" stroke-width="0.12" >J Probe</text>
<text x="184.80" y="117.90" font-size="6.4" fill="#222" text-anchor="start" font-weight="normal" stroke="#222" stroke-width="0.12" >J Probe</text>
<line x1="47.50" y1="142.90" x2="57.10" y2="142.90" stroke="#000" stroke-width="2.2" />
<line x1="57.10" y1="142.90" x2="65.30" y2="142.90" stroke="#6f93d3" stroke-width="2.2" />
<line x1="65.30" y1="142.90" x2="66.70" y2="142.90" stroke="#000" stroke-width="2.2" />
<line x1="105.50" y1="142.90" x2="114.60" y2="142.90" stroke="#6f93d3" stroke-width="2.2" />
<line x1="114.60" y1="142.90" x2="116.50" y2="142.90" stroke="#b5c94a" stroke-width="2.2" />
<line x1="116.50" y1="142.90" x2="124.60" y2="142.90" stroke="#c0504d" stroke-width="2.2" />
<line x1="186.20" y1="142.90" x2="190.20" y2="142.90" stroke="#000" stroke-width="2.2" />
<line x1="190.20" y1="142.90" x2="198.50" y2="142.90" stroke="#c0504d" stroke-width="2.2" />
<line x1="198.50" y1="142.90" x2="204.60" y2="142.90" stroke="#000" stroke-width="2.2" />
<rect x="22.3" y="173.8" width="212.3" height="130.2" fill="none" stroke="#959595" stroke-width="1.2"/>
<line x1="22.30" y1="194.80" x2="234.60" y2="194.80" stroke="#959595" stroke-width="1.2" />
<line x1="22.30" y1="215.60" x2="234.60" y2="215.60" stroke="#959595" stroke-width="1.2" />
<line x1="22.30" y1="236.60" x2="234.60" y2="236.60" stroke="#959595" stroke-width="1.2" />
<line x1="22.30" y1="257.80" x2="234.60" y2="257.80" stroke="#959595" stroke-width="1.2" />
<line x1="22.30" y1="278.80" x2="234.60" y2="278.80" stroke="#959595" stroke-width="1.2" />
<text x="25.30" y="182.20" font-size="6.3" fill="#222" text-anchor="start" font-weight="normal" stroke="#222" stroke-width="0.12" >Paired Reads</text>
<text x="25.30" y="203.10" font-size="6.3" fill="#222" text-anchor="start" font-weight="normal" stroke="#222" stroke-width="0.12" >Merged Reads</text>
<text x="25.30" y="224.00" font-size="6.3" fill="#222" text-anchor="start" font-weight="normal" stroke="#222" stroke-width="0.12" >V Query</text>
<text x="25.30" y="245.00" font-size="6.3" fill="#222" text-anchor="start" font-weight="normal" stroke="#222" stroke-width="0.12" >J Query</text>
<text x="25.30" y="266.00" font-size="6.3" fill="#222" text-anchor="start" font-weight="normal" stroke="#222" stroke-width="0.12" >D Query</text>
<text x="25.30" y="287.10" font-size="6.3" fill="#222" text-anchor="start" font-weight="normal" stroke="#222" stroke-width="0.12" >CDR3 Query</text>
<line x1="76.90" y1="187.40" x2="106.00" y2="187.40" stroke="#6a95d8" stroke-width="2.0" />
<line x1="106.00" y1="187.40" x2="110.10" y2="187.40" stroke="#b5c94a" stroke-width="2.0" />
<line x1="110.10" y1="187.40" x2="113.80" y2="187.40" stroke="#c0504d" stroke-width="2.0" />
<line x1="125.10" y1="187.40" x2="129.20" y2="187.40" stroke="#6a95d8" stroke-width="2.0" />
<line x1="129.20" y1="187.40" x2="133.10" y2="187.40" stroke="#b5c94a" stroke-width="2.0" />
<line x1="133.10" y1="187.40" x2="145.80" y2="187.40" stroke="#c0504d" stroke-width="2.0" />
<line x1="145.80" y1="187.40" x2="160.80" y2="187.40" stroke="#000" stroke-width="2.0" />
<line x1="76.90" y1="206.90" x2="106.00" y2="206.90" stroke="#6a95d8" stroke-width="2.0" />
<line x1="106.00" y1="206.90" x2="109.80" y2="206.90" stroke="#b5c94a" stroke-width="2.0" />
<line x1="109.80" y1="206.90" x2="122.80" y2="206.90" stroke="#c0504d" stroke-width="2.0" />
<line x1="122.80" y1="206.90" x2="137.60" y2="206.90" stroke="#000" stroke-width="2.0" />
<line x1="76.70" y1="229.10" x2="106.20" y2="229.10" stroke="#6a95d8" stroke-width="2.0" />
<line x1="106.20" y1="229.10" x2="109.40" y2="229.10" stroke="#b5c94a" stroke-width="2.0" />
<line x1="109.40" y1="229.10" x2="122.30" y2="229.10" stroke="#c0504d" stroke-width="2.0" />
<line x1="122.30" y1="229.10" x2="137.70" y2="229.10" stroke="#000" stroke-width="2.0" />
<line x1="141.70" y1="229.50" x2="152.80" y2="229.50" stroke="#000" stroke-width="2.0" />
<path d="M151.30,226.80 L157.80,229.50 L151.30,232.20 Z" fill="#000"/>
<text x="148.20" y="225.00" font-size="6.2" fill="#222" text-anchor="middle" font-weight="normal" stroke="#222" stroke-width="0.12" >?</text>
<rect x="159.20" y="225.50" width="29.50" height="7.30" fill="#6a95d8" />
<text x="159.80" y="223.60" font-size="6.3" fill="#7aa0dc" text-anchor="start" font-weight="normal" stroke="#7aa0dc" stroke-width="0.12" >TRBV1#1</text>
<line x1="188.70" y1="229.30" x2="192.30" y2="229.30" stroke="#b5c94a" stroke-width="2.0" />
<line x1="192.30" y1="229.30" x2="205.40" y2="229.30" stroke="#c0504d" stroke-width="2.0" />
<line x1="205.40" y1="229.30" x2="220.40" y2="229.30" stroke="#000" stroke-width="2.0" />
<rect x="76.9" y="247.6" width="29.1" height="7.5" fill="none" stroke="#6a95d8" stroke-width="0.95" stroke-dasharray="1.0,2.1"/>
<text x="91.40" y="253.90" font-size="6.3" fill="#222" text-anchor="middle" font-weight="normal" stroke="#222" stroke-width="0.12" >Trim</text>
<line x1="106.00" y1="251.50" x2="109.80" y2="251.50" stroke="#b5c94a" stroke-width="2.0" />
<line x1="109.80" y1="251.50" x2="122.50" y2="251.50" stroke="#c0504d" stroke-width="2.0" />
<line x1="122.50" y1="251.50" x2="137.90" y2="251.50" stroke="#000" stroke-width="2.0" />
<line x1="141.90" y1="251.60" x2="153.10" y2="251.60" stroke="#000" stroke-width="2.0" />
<path d="M151.60,248.90 L158.10,251.60 L151.60,254.30 Z" fill="#000"/>
<text x="148.40" y="247.20" font-size="6.2" fill="#222" text-anchor="middle" font-weight="normal" stroke="#222" stroke-width="0.12" >?</text>
<rect x="159.9" y="248.4" width="29.3" height="7.2" fill="none" stroke="#6a95d8" stroke-width="0.95" stroke-dasharray="1.0,2.1"/>
<line x1="189.20" y1="251.80" x2="193.20" y2="251.80" stroke="#b5c94a" stroke-width="2.0" />
<rect x="193.20" y="248.80" width="12.60" height="6.40" fill="#c0504d" />
<line x1="205.80" y1="251.80" x2="220.80" y2="251.80" stroke="#000" stroke-width="2.0" />
<text x="185.00" y="245.70" font-size="6.3" fill="#c0504d" text-anchor="start" font-weight="normal" stroke="#c0504d" stroke-width="0.12" >TRBJ1-1#1</text>
<rect x="76.9" y="269.0" width="29.1" height="7.4" fill="none" stroke="#6a95d8" stroke-width="0.95" stroke-dasharray="1.0,2.1"/>
<text x="92.80" y="275.30" font-size="6.3" fill="#222" text-anchor="middle" font-weight="normal" stroke="#222" stroke-width="0.12" >Trim</text>
<line x1="106.00" y1="272.70" x2="109.60" y2="272.70" stroke="#b5c94a" stroke-width="2.0" />
<rect x="109.3" y="269.0" width="14.4" height="7.4" fill="none" stroke="#c0504d" stroke-width="0.95" stroke-dasharray="1.0,2.1"/>
<text x="116.70" y="275.30" font-size="6.3" fill="#222" text-anchor="middle" font-weight="normal" stroke="#222" stroke-width="0.12" >Trim</text>
<line x1="123.70" y1="272.80" x2="137.90" y2="272.80" stroke="#777" stroke-width="2.0" />
<line x1="141.90" y1="272.90" x2="153.10" y2="272.90" stroke="#000" stroke-width="2.0" />
<path d="M151.60,270.20 L158.10,272.90 L151.60,275.60 Z" fill="#000"/>
<text x="148.40" y="268.40" font-size="6.2" fill="#222" text-anchor="middle" font-weight="normal" stroke="#222" stroke-width="0.12" >?</text>
<rect x="159.9" y="269.0" width="29.0" height="7.6" fill="none" stroke="#6a95d8" stroke-width="0.95" stroke-dasharray="1.0,2.1"/>
<rect x="188.80" y="269.50" width="3.90" height="6.80" fill="#b5c94a" />
<rect x="192.7" y="269.0" width="13.8" height="7.6" fill="none" stroke="#c0504d" stroke-width="0.95" stroke-dasharray="1.0,2.1"/>
<line x1="206.50" y1="272.90" x2="220.80" y2="272.90" stroke="#777" stroke-width="2.0" />
<text x="182.20" y="266.80" font-size="6.55" fill="#a2bf5e" text-anchor="start" font-weight="normal" stroke="#a2bf5e" stroke-width="0.12" >TRBD1#1</text>
<line x1="77.40" y1="288.00" x2="102.00" y2="288.00" stroke="#6a95d8" stroke-width="1.6" />
<rect x="102.00" y="284.90" width="4.50" height="6.50" fill="#6a95d8" />
<rect x="106.50" y="284.90" width="3.80" height="6.50" fill="#b5c94a" />
<rect x="110.30" y="284.90" width="3.90" height="6.50" fill="#c0504d" />
<line x1="114.20" y1="288.00" x2="123.10" y2="288.00" stroke="#c0504d" stroke-width="1.6" />
<line x1="123.10" y1="288.00" x2="137.70" y2="288.00" stroke="#000" stroke-width="2.0" />
<line x1="142.70" y1="288.50" x2="151.80" y2="288.50" stroke="#000" stroke-width="2.0" />
<path d="M150.30,285.80 L156.80,288.50 L150.30,291.20 Z" fill="#000"/>
<text x="98.20" y="299.80" font-size="6.15" fill="#222" text-anchor="start" font-weight="normal" stroke="#222" stroke-width="0.12" >Junction</text>
<text x="139.00" y="299.80" font-size="6.3" fill="#222" text-anchor="start" font-weight="normal" stroke="#222" stroke-width="0.12" >RegEx</text>
<text x="161.9" y="290.2" font-size="6.45" stroke-width="0.1"><tspan fill="#6a95d8" stroke="#6a95d8">CASSV</tspan><tspan fill="#9bbb59" stroke="#9bbb59">GG</tspan><tspan fill="#c0504d" stroke="#c0504d">SLKQFF</tspan></text>
<line x1="41.70" y1="323.60" x2="41.70" y2="466.10" stroke="#000" stroke-width="1.1" />
<line x1="41.20" y1="466.10" x2="229.70" y2="466.10" stroke="#000" stroke-width="1.1" />
<line x1="38.10" y1="459.70" x2="41.70" y2="459.70" stroke="#000" stroke-width="1.0" />
<text transform="translate(35.50,461.95) scale(1.06,1)" font-size="6.3" fill="#222" stroke="#222" stroke-width="0.2" text-anchor="end">0</text>
<line x1="38.10" y1="426.60" x2="41.70" y2="426.60" stroke="#000" stroke-width="1.0" />
<text transform="translate(35.50,428.85) scale(1.06,1)" font-size="6.3" fill="#222" stroke="#222" stroke-width="0.2" text-anchor="end">500</text>
<line x1="38.10" y1="393.50" x2="41.70" y2="393.50" stroke="#000" stroke-width="1.0" />
<text transform="translate(35.50,395.75) scale(1.06,1)" font-size="6.3" fill="#222" stroke="#222" stroke-width="0.2" text-anchor="end">1000</text>
<line x1="38.10" y1="360.40" x2="41.70" y2="360.40" stroke="#000" stroke-width="1.0" />
<text transform="translate(35.50,362.65) scale(1.06,1)" font-size="6.3" fill="#222" stroke="#222" stroke-width="0.2" text-anchor="end">1500</text>
<line x1="38.10" y1="327.30" x2="41.70" y2="327.30" stroke="#000" stroke-width="1.0" />
<text transform="translate(35.50,329.55) scale(1.06,1)" font-size="6.3" fill="#222" stroke="#222" stroke-width="0.2" text-anchor="end">2000</text>
<line x1="50.50" y1="466.10" x2="50.50" y2="469.60" stroke="#000" stroke-width="1.0" />
<text transform="translate(50.50,478.50) scale(1.08,1)" font-size="6.3" fill="#222" stroke="#222" stroke-width="0.2" text-anchor="middle">0</text>
<line x1="94.60" y1="466.10" x2="94.60" y2="469.60" stroke="#000" stroke-width="1.0" />
<text transform="translate(94.60,478.50) scale(1.08,1)" font-size="6.3" fill="#222" stroke="#222" stroke-width="0.2" text-anchor="middle">250</text>
<line x1="138.70" y1="466.10" x2="138.70" y2="469.60" stroke="#000" stroke-width="1.0" />
<text transform="translate(138.70,478.50) scale(1.08,1)" font-size="6.3" fill="#222" stroke="#222" stroke-width="0.2" text-anchor="middle">500</text>
<line x1="182.80" y1="466.10" x2="182.80" y2="469.60" stroke="#000" stroke-width="1.0" />
<text transform="translate(182.80,478.50) scale(1.08,1)" font-size="6.3" fill="#222" stroke="#222" stroke-width="0.2" text-anchor="middle">750</text>
<line x1="226.90" y1="466.10" x2="226.90" y2="469.60" stroke="#000" stroke-width="1.0" />
<text transform="translate(226.90,478.50) scale(1.08,1)" font-size="6.3" fill="#222" stroke="#222" stroke-width="0.2" text-anchor="middle">1000</text>
<rect x="66.59" y="455.83" width="2.50" height="2.50" fill="#a0001a" />
<rect x="84.23" y="438.29" width="2.50" height="2.50" fill="#a0001a" />
<rect x="84.23" y="450.21" width="2.50" height="2.50" fill="#a0001a" />
<rect x="84.23" y="456.16" width="2.50" height="2.50" fill="#a0001a" />
<rect x="93.05" y="409.82" width="2.50" height="2.50" fill="#a0001a" />
<rect x="137.15" y="416.58" width="2.50" height="2.50" fill="#a0001a" />
<rect x="154.79" y="403.47" width="2.50" height="2.50" fill="#a0001a" />
<rect x="154.79" y="430.35" width="2.50" height="2.50" fill="#a0001a" />
<rect x="154.79" y="432.33" width="2.50" height="2.50" fill="#a0001a" />
<rect x="190.07" y="365.14" width="2.50" height="2.50" fill="#a0001a" />
<rect x="225.35" y="330.38" width="2.50" height="2.50" fill="#a0001a" />
<rect x="225.35" y="436.30" width="2.50" height="2.50" fill="#a0001a" />
<line x1="68.00" y1="452.60" x2="226.50" y2="380.40" stroke="#000" stroke-width="1.2" />
<text transform="translate(14.4,433.0) rotate(-90) scale(0.72,1)" font-size="8.3" fill="#222" stroke="#222" stroke-width="0.4">Unique VJ rearrangements</text>
<text transform="translate(114.8,490.8) scale(0.765,1)" font-size="8.2" fill="#222" stroke="#222" stroke-width="0.4">Library input (ng)</text>
<rect x="0.5" y="0.5" width="519" height="499" fill="none" stroke="#000" stroke-width="1.2"/>
</svg>
</body></html>
